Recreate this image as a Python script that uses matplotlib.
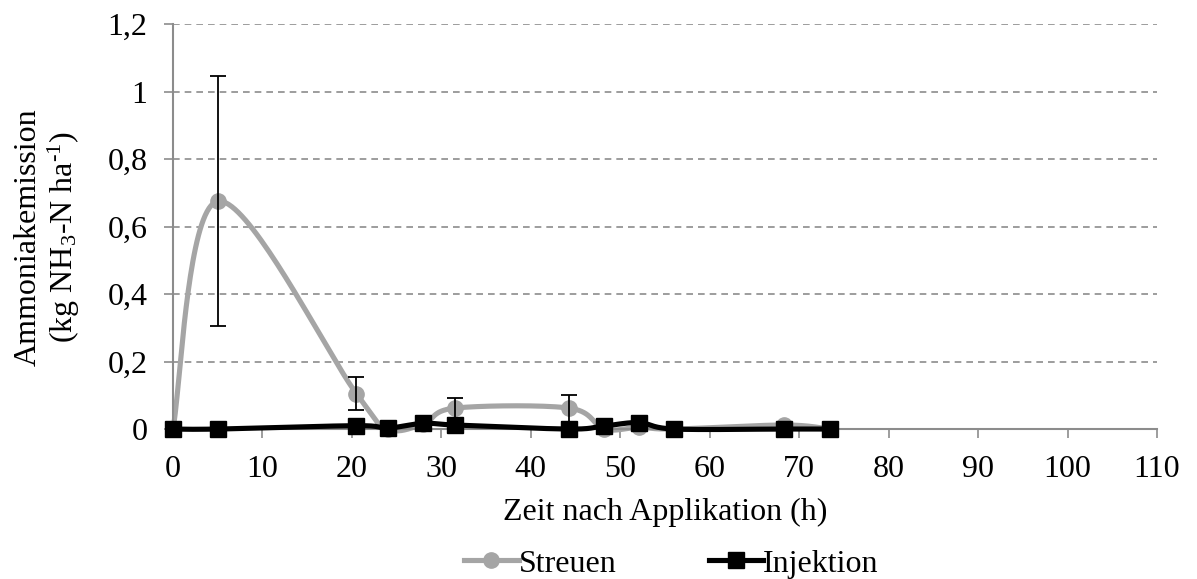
import numpy as np
import matplotlib
matplotlib.use("Agg")
import matplotlib.pyplot as plt
from matplotlib.lines import Line2D

plt.rcParams['font.family'] = ['Liberation Serif', 'DejaVu Serif']
plt.rcParams['mathtext.fontset'] = 'custom'
plt.rcParams['mathtext.rm'] = 'Liberation Serif'
plt.rcParams['mathtext.it'] = 'Liberation Serif:italic'

# Measurement times (h) and emissions (kg NH3-N / ha)
hours = [0, 5, 20.5, 24, 28, 31.5, 44.3, 48.2, 52.1, 56, 68.3, 73.4]
streuen = [0, 0.675, 0.105, 0, 0.015, 0.062, 0.062, 0, 0.005, 0, 0.012, 0]
streuen_err = [0, 0.37, 0.048, 0, 0, 0.03, 0.04, 0, 0, 0, 0, 0]
injektion = [0, 0, 0.01, 0.003, 0.017, 0.012, 0, 0.009, 0.019, 0, 0, 0]

x_ticks = list(range(0, 111, 10))
y_ticks = [0, 0.2, 0.4, 0.6, 0.8, 1.0, 1.2]
y_tick_labels = ['0', '0,2', '0,4', '0,6', '0,8', '1', '1,2']

GREY = '#A5A5A5'
FS = 23


def smooth(xs, ys, n=40):
    """Catmull-Rom style smoothing through all points."""
    xs = np.asarray(xs, float)
    ys = np.asarray(ys, float)
    px = np.concatenate([[xs[0]], xs, [xs[-1]]])
    py = np.concatenate([[ys[0]], ys, [ys[-1]]])
    ox, oy = [], []
    for i in range(1, len(px) - 2):
        p0 = np.array([px[i - 1], py[i - 1]])
        p1 = np.array([px[i], py[i]])
        p2 = np.array([px[i + 1], py[i + 1]])
        p3 = np.array([px[i + 2], py[i + 2]])
        c1 = p1 + (p2 - p0) / 6.0
        c2 = p2 - (p3 - p1) / 6.0
        t = np.linspace(0, 1, n)[:, None]
        b = ((1 - t) ** 3) * p1 + 3 * ((1 - t) ** 2) * t * c1 + 3 * (1 - t) * t ** 2 * c2 + t ** 3 * p2
        ox.extend(b[:, 0])
        oy.extend(b[:, 1])
    return np.array(ox), np.array(oy)


fig = plt.figure(figsize=(11.97, 5.79), dpi=100)
ax = fig.add_axes([0.1445, 0.259, 0.8221, 0.6995])

ax.set_xlim(0, 110)
ax.set_ylim(0, 1.2)

for yv in y_ticks[1:]:
    ax.axhline(yv, color='#8C8C8C', lw=1.2, ls=(0, (4, 3)), zorder=0)

sx, sy = smooth(hours, streuen)
ax.plot(sx, sy, color=GREY, lw=3.7, zorder=2, solid_capstyle='round', clip_on=False)
ax.plot(hours, streuen, 'o', color=GREY, ms=11, zorder=2, clip_on=False)
ax.errorbar(hours, streuen, yerr=streuen_err, fmt='none', ecolor='black',
            elinewidth=1.3, capsize=6, capthick=1.3, zorder=3)

ix, iy = smooth(hours, injektion)
ax.plot(ix, iy, color='black', lw=3.7, zorder=4, solid_capstyle='round', clip_on=False)
ax.plot(hours, injektion, 's', color='black', ms=11, zorder=4, clip_on=False)

ax.set_xticks(x_ticks)
ax.set_yticks(y_ticks)
ax.set_yticklabels(y_tick_labels)
ax.tick_params(axis='both', labelsize=FS, colors='#8C8C8C', labelcolor='black',
               length=6.5, width=1.2, direction='out')
ax.tick_params(axis='x', pad=12)
ax.tick_params(axis='y', pad=12)

for side in ['top', 'right']:
    ax.spines[side].set_visible(False)
for side in ['left', 'bottom']:
    ax.spines[side].set_color('#8C8C8C')
    ax.spines[side].set_linewidth(1.5)

ax.set_xlabel('Zeit nach Applikation (h)', fontsize=FS, labelpad=10)
ax.set_ylabel('Ammoniakemission\n' + r'(kg NH$_3$-N ha$^{\text{-1}}$)', fontsize=FS,
              linespacing=1.12)
ax.yaxis.set_label_coords(-0.092, 0.473)

handles = [
    Line2D([], [], color=GREY, lw=3.7, marker='o', ms=11),
    Line2D([], [], color='black', lw=3.7, marker='s', ms=11),
]
fig.legend(handles, ['Streuen', 'Injektion'], loc='center', bbox_to_anchor=(0.561, 0.026),
           ncol=2, frameon=False, fontsize=FS, handlelength=1.7, handletextpad=0.0,
           columnspacing=2.9, borderpad=0)

fig.savefig('out.png', dpi=100)
